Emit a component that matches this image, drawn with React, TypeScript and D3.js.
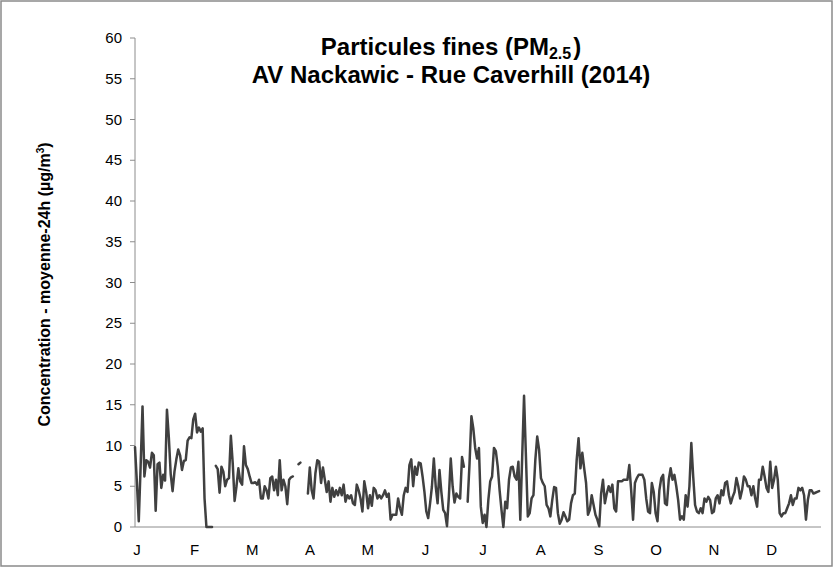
import React from "react";
import * as d3 from "d3";

const monthLabels = ["J", "F", "M", "A", "M", "J", "J", "A", "S", "O", "N", "D"];
const yTickValues = [0, 5, 10, 15, 20, 25, 30, 35, 40, 45, 50, 55, 60];

// Daily 24h mean PM2.5 (µg/m³), 2014, segmented by data gaps
const janFeb = [9.8, 5.5, 0.7, 7.5, 14.8, 6.2, 8.2, 8, 7.3, 9.1, 8.8, 2, 7.7, 7.9, 4.8, 6.4, 5.7, 14.4, 11, 6.5, 4.4, 6.8, 8.3, 9.5, 8.8, 7, 8.1, 8.2, 10.6, 11, 10.9, 13.2, 13.9, 11.6, 12.2, 11.7, 12.1, 3.5, 0, 0, 0, 0];
const febMar = [7.5, 7.1, 4.2, 7.4, 6.8, 5, 5.8, 6, 11.2, 7.8, 3.2, 5, 7.2, 5.6, 5.2, 9.9, 7.6, 7.1, 6.2, 5.4, 5.4, 5.5, 5.2, 5.8, 3.5, 3.5, 5, 4.5, 3.5, 6, 6.2, 4.5, 5.8, 3.9, 8.2, 4.5, 5.8, 5, 2.8, 5.8, 6.1, 6.2];
const lateMar = [7.7, 7.9];
const aprJun = [4.1, 7.3, 4.5, 3.5, 6.6, 8.2, 8, 5.4, 7.3, 5.8, 4.3, 5.6, 3.1, 4.8, 3.7, 4.5, 3.9, 4.8, 3.9, 5.2, 3.1, 3.9, 3.5, 3.9, 2.9, 2.7, 5.2, 4.5, 3.5, 1.9, 5.6, 4.3, 2.3, 3.9, 2.6, 4.8, 4.5, 3.5, 3.9, 3.5, 3.9, 4.5, 3.7, 4.1, 0.9, 1.5, 1.5, 1.5, 3.5, 2.3, 1.5, 3.9, 4.8, 4.3, 7.6, 8.3, 5, 7.4, 6.4, 7.9, 7.8, 6.2, 4.3, 1.9, 1.1, 2.9, 5, 8.4, 5, 2.9, 7, 4.3, 2.1, 1.7, 0.1, 3.7, 8.4, 5, 3, 4.1, 3.7, 3.5, 8.6, 7.4];
const junSep = [3.1, 7.8, 13.6, 12.1, 9.7, 8.4, 9.7, 2.5, 0.5, 1.5, 0, 3.3, 5.6, 6.2, 9.7, 9.3, 7.4, 4.5, 2.1, 0, 3.1, 2.3, 5.8, 7.3, 7.4, 6.2, 5.8, 8, 0.9, 8.5, 16.1, 8.7, 1.3, 1.7, 3.5, 3.9, 8.2, 11.1, 9.5, 6, 5.4, 5, 2.7, 2.3, 1.3, 3.3, 4.9, 4.8, 1.7, 0.4, 0.9, 1.8, 1.3, 0.7, 0.9, 2.9, 3.9, 4.1, 8.2, 10.9, 7.2, 9.1, 7.2, 5.4, 1.5, 2.1, 3.9, 2.7, 1.5, 0.9, 0.1, 4.1, 5.8, 2.9, 4.1, 5, 4.3, 5.2, 2.3, 1.9, 5.6, 5.6];
const sepDec = [5.6, 5.8, 5.8, 5.8, 7.6, 4.5, 0.9, 5.4, 6, 6.4, 6.4, 6.4, 5.8, 3.5, 1.9, 1.7, 5.4, 4.3, 1.7, 0.7, 4.5, 6, 6.4, 2.9, 2.7, 5.8, 7.2, 5.8, 6.4, 5, 3.3, 0.9, 1.3, 0.9, 3.9, 2.5, 5, 10.3, 6.2, 2.7, 1.9, 1.7, 2.3, 1.7, 3.5, 3.1, 3.7, 3.3, 1.7, 1.9, 3.5, 3.9, 2.9, 4.5, 3.9, 5.4, 5.6, 3.9, 2.9, 3.7, 4.3, 6, 5, 3.5, 4.5, 6.2, 5.8, 5, 5, 3.9, 5, 3.5, 2.5, 5.8, 5.8, 7.4, 6.2, 4.8, 4.3, 8, 4.8, 5.8, 7.4, 5.8, 1.7, 1.3, 1.7, 1.7, 2.3, 2.9, 3.9, 2.7, 3.5, 3.5, 4.8, 4.5, 4.8, 3.9, 0.9, 3.3, 4.5, 4.5, 4.1, 4.2, 4.3, 4.4];

const pm25: (number | null)[] = [
  ...janFeb, null,
  ...febMar, null, null,
  ...lateMar, null, null, null,
  ...aprJun, null,
  ...junSep,
  ...sepDec,
];

const W = 834;
const H = 568;
const margin = { left: 135, right: 13, top: 38, bottom: 41 };
const FONT = "'Liberation Sans', Arial, sans-serif";
const NARROW = "'Liberation Sans Narrow', 'Arial Narrow', 'Liberation Sans', sans-serif";

export default function App() {
  const x = d3.scaleLinear().domain([0, 365]).range([margin.left, W - margin.right]);
  const y = d3.scaleLinear().domain([0, 60]).range([H - margin.bottom, margin.top]);
  const line = d3
    .line<number | null>()
    .defined((d) => d !== null)
    .x((_, i) => x(i))
    .y((d) => y(d as number));
  const path = line(pm25) || "";
  const axisColor = "#8c8c8c";
  const y0 = y(0);

  return (
    <svg width={W} height={H} style={{ position: "absolute", left: 0, top: 0, background: "#fff" }}>
      <rect x={1} y={1} width={W - 3} height={H - 3} fill="#fff" stroke="#8a8a8a" strokeWidth={1.5} />
      {/* title */}
      <text x={451} y={55} textAnchor="middle" fontFamily={FONT} fontWeight="bold" fontSize={24} fill="#000">
        Particules fines (PM<tspan fontSize={16} dy={4}>2.5</tspan><tspan dx={2} dy={-4}>)</tspan>
      </text>
      <text x={451} y={83} textAnchor="middle" fontFamily={FONT} fontWeight="bold" fontSize={24} fill="#000">
        AV Nackawic - Rue Caverhill (2014)
      </text>
      {/* y axis */}
      <line x1={margin.left} x2={margin.left} y1={y(60)} y2={y0} stroke={axisColor} strokeWidth={1} />
      {yTickValues.map((t) => (
        <g key={t}>
          <line x1={margin.left - 5} x2={margin.left} y1={y(t)} y2={y(t)} stroke={axisColor} strokeWidth={1} />
          <text x={margin.left - 13} y={y(t) + 5} textAnchor="end" fontFamily={NARROW} fontSize={15} fill="#000">
            {t}
          </text>
        </g>
      ))}
      <text
        transform={`translate(50, ${(y(60) + y0) / 2 + 2}) rotate(-90)`}
        textAnchor="middle"
        fontFamily={FONT}
        fontWeight="bold"
        fontSize={16}
        fill="#000"
      >
        Concentration - moyenne-24h (µg/m<tspan fontSize={10} dy={-6}>3</tspan><tspan dy={6}>)</tspan>
      </text>
      {/* x axis */}
      <line x1={margin.left} x2={W - margin.right} y1={y0} y2={y0} stroke={axisColor} strokeWidth={1} />
      {monthLabels.map((m, i) => (
        <text key={i} x={x(1 + i * 30.7)} y={y0 + 28} textAnchor="middle" fontFamily={NARROW} fontSize={15} fill="#000">
          {m}
        </text>
      ))}
      {/* series */}
      <path d={path} fill="none" stroke="#404040" strokeWidth={2.5} strokeLinejoin="round" strokeLinecap="round" />
    </svg>
  );
}
